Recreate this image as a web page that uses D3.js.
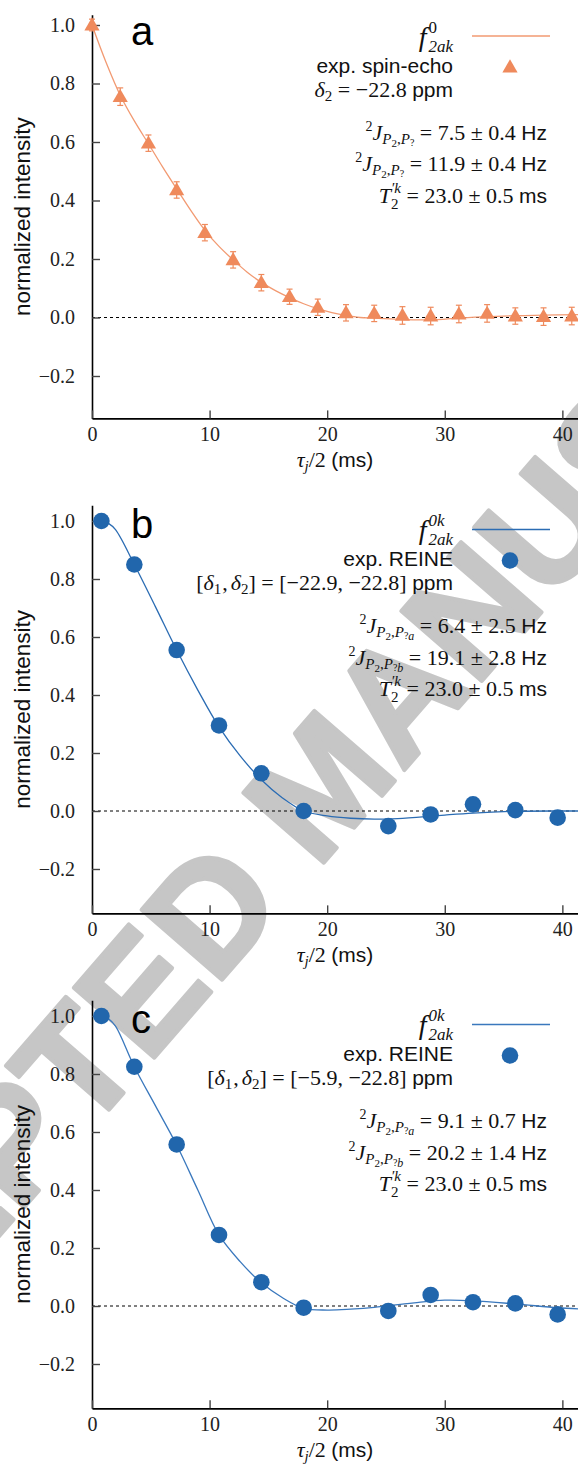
<!DOCTYPE html>
<html>
<head>
<meta charset="utf-8">
<script src="https://cdn.jsdelivr.net/npm/d3@7"></script>
<style>
  body { margin: 0; background: #fff; }
  text { white-space: pre; }
</style>
</head>
<body>
<svg id="chart" width="578" height="1466"></svg>
<script>
// ---- data ----
// panel a: spin-echo (triangles with error bars)
var tauA = [0, 2.4, 4.8, 7.2, 9.6, 12.0, 14.4, 16.8, 19.2, 21.6, 24.0, 26.4, 28.8, 31.2, 33.6, 36.0, 38.4, 40.8];
var intensityA = [1.0, 0.755, 0.596, 0.436, 0.290, 0.197, 0.119, 0.071, 0.035, 0.016, 0.014, 0.007, 0.005, 0.012, 0.014, 0.005, 0.003, 0.005];
var errorA = [0.02, 0.03, 0.028, 0.028, 0.028, 0.028, 0.028, 0.026, 0.028, 0.028, 0.028, 0.03, 0.03, 0.03, 0.03, 0.028, 0.03, 0.03];
var fitTauA = [0, 1.2, 2.4, 3.6, 4.8, 6.0, 7.2, 8.4, 9.6, 10.8, 12.0, 13.2, 14.4, 15.6, 16.8, 18.0, 19.2, 20.4, 21.6, 22.8, 24.0, 26.4, 28.8, 31.2, 33.6, 36.0, 38.4, 41.4];
var fitA = [1.0, 0.872, 0.76, 0.672, 0.594, 0.515, 0.44, 0.366, 0.298, 0.243, 0.197, 0.155, 0.12, 0.092, 0.068, 0.047, 0.03, 0.017, 0.007, 0.0, -0.002, -0.007, -0.008, -0.002, 0.003, 0.006, 0.008, 0.010];

// panel b: REINE, [-22.9, -22.8] ppm
var tauB = [0.8, 3.6, 7.2, 10.8, 14.4, 18.0, 25.2, 28.8, 32.4, 36.0, 39.6];
var intensityB = [1.0, 0.85, 0.555, 0.295, 0.13, 0.0, -0.052, -0.012, 0.023, 0.003, -0.023];
var fitTauB = [0.8, 1.4, 2.0, 3.6, 5.4, 7.2, 9.0, 10.8, 12.6, 14.4, 16.2, 18.0, 20.0, 22.0, 24.0, 26.0, 28.8, 30.0, 32.4, 36.0, 40.0, 41.4];
var fitB = [1.0, 0.992, 0.97, 0.85, 0.704, 0.555, 0.417, 0.29, 0.19, 0.108, 0.045, 0.0, -0.017, -0.025, -0.028, -0.026, -0.018, -0.014, -0.007, -0.001, 0.0, 0.0];

// panel c: REINE, [-5.9, -22.8] ppm
var tauC = [0.8, 3.6, 7.2, 10.8, 14.4, 18.0, 25.2, 28.8, 32.4, 36.0, 39.6];
var intensityC = [1.0, 0.825, 0.557, 0.245, 0.082, -0.006, -0.017, 0.038, 0.013, 0.009, -0.029];
var fitTauC = [0.8, 1.4, 2.0, 3.6, 5.4, 7.2, 9.0, 10.8, 12.6, 14.4, 16.3, 18.0, 20.0, 22.0, 24.0, 25.2, 27.4, 30.0, 32.4, 36.0, 39.6, 41.4];
var fitC = [1.0, 0.99, 0.965, 0.825, 0.69, 0.555, 0.40, 0.245, 0.153, 0.08, 0.026, -0.008, -0.014, -0.011, -0.005, 0.001, 0.011, 0.02, 0.018, 0.007, -0.006, -0.01];

var xTicks = [0, 10, 20, 30, 40];
var yTicks = [-0.2, 0, 0.2, 0.4, 0.6, 0.8, 1.0];
var panelLabels = ["a", "b", "c"];
var legendNames = ["exp. spin-echo", "exp. REINE", "exp. REINE"];
var fitSup = ["0", "0k", "0k"];
var shiftLines = [
  ["δ", "2", " = −22.8 "],
  ["[", "δ", "1", ",", "δ", "2", "] = [−22.9, −22.8] "],
  ["[", "δ", "1", ",", "δ", "2", "] = [−5.9, −22.8] "]
];
var jValues = [
  ["7.5 ± 0.4", "11.9 ± 0.4"],
  ["6.4 ± 2.5", "19.1 ± 2.8"],
  ["9.1 ± 0.7", "20.2 ± 1.4"]
];
var jSubs = [["", ""], ["a", "b"], ["a", "b"]];
var t2Values = ["23.0 ± 0.5", "23.0 ± 0.5", "23.0 ± 0.5"];

var SERIF = "'Liberation Serif', 'Times New Roman', serif";
var SANS = "'Liberation Sans', Arial, Helvetica, sans-serif";
var ORANGE = "#ef8a5c";
var BLUE = "#2166ac";

var svg = d3.select("#chart");

// watermark underneath everything
svg.append("text")
  .attr("transform", "translate(320,782) rotate(-49)")
  .attr("text-anchor", "middle")
  .attr("dy", "0.36em")
  .attr("font-family", SANS)
  .attr("font-weight", "bold")
  .attr("font-size", 155)
  .attr("fill", "#c6c6c6")
  .attr("stroke", "#c6c6c6")
  .attr("stroke-width", 4)
  .attr("stroke-linejoin", "round")
  .text("ACCEPTED MANUSCRIPT");

var x = d3.scaleLinear().domain([0, 41.33]).range([92, 578]);

// lays out a run of text pieces (sub/superscripts) side by side
function formula(g, segs, xPos, baseY, anchor) {
  var grp = g.append("g");
  var nodes = segs.map(function(s) {
    return grp.append("text")
      .attr("y", baseY + (s.dy || 0))
      .attr("font-family", s.f === "sans" ? SANS : SERIF)
      .attr("font-style", s.it ? "italic" : "normal")
      .attr("font-size", s.s)
      .attr("fill", "#111")
      .text(s.t);
  });
  var cursor = 0, lastStart = 0, starts = [];
  segs.forEach(function(s, i) {
    var w = nodes[i].node().getComputedTextLength();
    if (s.stack) {
      starts.push(lastStart);
      cursor = Math.max(cursor, lastStart + w);
    } else {
      var st = cursor + (s.dx || 0);
      starts.push(st);
      lastStart = st;
      cursor = st + w;
    }
  });
  var x0 = anchor === "end" ? xPos - cursor : anchor === "middle" ? xPos - cursor / 2 : xPos;
  nodes.forEach(function(n, i) { n.attr("x", x0 + starts[i]); });
}

var panels = [
  { zero: 317.5, unit: 292.5, yMin: -0.345, yMax: 1.035, tau: tauA, val: intensityA, err: errorA, fx: fitTauA, fy: fitA, color: ORANGE, line: "#f29a72", marker: "triangle" },
  { zero: 811, unit: 290, yMin: -0.353, yMax: 1.054, tau: tauB, val: intensityB, fx: fitTauB, fy: fitB, color: BLUE, line: "#2b6cb3", marker: "circle" },
  { zero: 1306, unit: 290, yMin: -0.353, yMax: 1.054, tau: tauC, val: intensityC, fx: fitTauC, fy: fitC, color: BLUE, line: "#3a78bd", marker: "circle" }
];

panels.forEach(function(p, pi) {
  var y = d3.scaleLinear()
    .domain([p.yMin, p.yMax])
    .range([p.zero - p.yMin * p.unit, p.zero - p.yMax * p.unit]);
  var g = svg.append("g");
  var bottom = y(p.yMin), top = y(p.yMax);

  g.append("clipPath").attr("id", "clip" + pi)
    .append("rect").attr("x", 92).attr("y", top - 20).attr("width", 486).attr("height", bottom - top + 20);

  // zero line
  g.append("line")
    .attr("x1", x(0)).attr("x2", x(41.33))
    .attr("y1", y(0)).attr("y2", y(0))
    .attr("stroke", "#000").attr("stroke-width", 1)
    .attr("stroke-dasharray", "3,3");

  // axes
  var yAxis = g.append("g").attr("transform", "translate(92,0)")
    .call(d3.axisLeft(y).tickValues(yTicks).tickSize(-8).tickSizeOuter(0).tickPadding(17)
      .tickFormat(function(d) { return d < 0 ? "−" + Math.abs(d).toFixed(1) : d.toFixed(1); }));
  var xAxis = g.append("g").attr("transform", "translate(0," + bottom + ")")
    .call(d3.axisBottom(x).tickValues(xTicks).tickSize(-8).tickSizeOuter(0).tickPadding(8));
  [xAxis, yAxis].forEach(function(a) {
    a.select(".domain").attr("stroke", "#000").attr("stroke-width", 1.6);
    a.selectAll(".tick line").attr("stroke", "#444").attr("stroke-width", 1.4);
    a.selectAll(".tick text").attr("font-family", SERIF).attr("font-size", 20).attr("fill", "#222");
  });

  // fit curve
  var pts = p.fx.map(function(t, i) { return [t, p.fy[i]]; });
  g.append("path")
    .datum(pts)
    .attr("clip-path", "url(#clip" + pi + ")")
    .attr("fill", "none")
    .attr("stroke", p.line)
    .attr("stroke-width", 1.3)
    .attr("d", d3.line().x(function(d) { return x(d[0]); }).y(function(d) { return y(d[1]); })
      .curve(d3.curveCatmullRom.alpha(0.5)));

  var data = p.tau.map(function(t, i) { return { t: t, v: p.val[i], e: p.err ? p.err[i] : 0 }; });

  if (p.marker === "triangle") {
    var eb = g.append("g").attr("stroke", p.color).attr("stroke-width", 1.2);
    data.forEach(function(d) {
      var cx = x(d.t);
      eb.append("line").attr("x1", cx).attr("x2", cx).attr("y1", y(d.v - d.e)).attr("y2", y(d.v + d.e));
      eb.append("line").attr("x1", cx - 3).attr("x2", cx + 3).attr("y1", y(d.v - d.e)).attr("y2", y(d.v - d.e));
      eb.append("line").attr("x1", cx - 3).attr("x2", cx + 3).attr("y1", y(d.v + d.e)).attr("y2", y(d.v + d.e));
    });
    g.selectAll("path.pt").data(data).enter().append("path")
      .attr("class", "pt")
      .attr("d", d3.symbol(d3.symbolTriangle, 100))
      .attr("transform", function(d) { return "translate(" + x(d.t) + "," + (y(d.v) + 1) + ")"; })
      .attr("fill", p.color);
  } else {
    g.selectAll("circle.pt").data(data).enter().append("circle")
      .attr("class", "pt")
      .attr("cx", function(d) { return x(d.t); })
      .attr("cy", function(d) { return y(d.v); })
      .attr("r", 8.3)
      .attr("fill", p.color);
  }

  // panel letter
  g.append("text").attr("x", 131).attr("y", p.zero - 273)
    .attr("font-family", SANS).attr("font-size", 40).attr("fill", "#000")
    .text(panelLabels[pi]);

  // axis titles
  g.append("text")
    .attr("transform", "translate(30," + ((top + bottom) / 2) + ") rotate(-90)")
    .attr("text-anchor", "middle")
    .attr("font-family", SANS).attr("font-size", 22.5).attr("fill", "#111")
    .text("normalized intensity");
  formula(g, [
    { t: "τ", it: true, s: 22 },
    { t: "j", it: true, s: 15, dy: 4 },
    { t: "/2 ", s: 22 },
    { t: "(ms)", f: "sans", s: 21 }
  ], 335, bottom + 49, "middle");

  // legend
  g.append("line")
    .attr("x1", 472).attr("x2", 550)
    .attr("y1", p.zero - 281.5).attr("y2", p.zero - 281.5)
    .attr("stroke", p.line).attr("stroke-width", 1.5);
  if (p.marker === "triangle") {
    g.append("path").attr("d", d3.symbol(d3.symbolTriangle, 100))
      .attr("transform", "translate(510," + (p.zero - 249.5) + ")").attr("fill", p.color);
  } else {
    g.append("circle").attr("cx", 510).attr("cy", p.zero - 250.5).attr("r", 8.3).attr("fill", p.color);
  }
  formula(g, [
    { t: "f", it: true, s: 28 },
    { t: fitSup[pi], it: pi > 0, s: 17, dy: -13, dx: 2 },
    { t: "2ak", it: true, s: 17, dy: 6, stack: true }
  ], 453, p.zero - 272, "end");
  g.append("text").attr("x", 453).attr("y", p.zero - 245)
    .attr("text-anchor", "end").attr("font-family", SANS).attr("font-size", 21).attr("fill", "#111")
    .text(legendNames[pi]);

  var sh = shiftLines[pi];
  var shSegs = sh.length === 3
    ? [{ t: sh[0], it: true, s: 22 }, { t: sh[1], s: 15, dy: 4 }, { t: sh[2], s: 22 }]
    : [{ t: sh[0], s: 22 }, { t: sh[1], it: true, s: 22 }, { t: sh[2], s: 15, dy: 4 },
       { t: sh[3], s: 22, dx: 1 }, { t: sh[4], it: true, s: 22, dx: 3 }, { t: sh[5], s: 15, dy: 4 }, { t: sh[6], s: 22 }];
  shSegs.push({ t: "ppm", f: "sans", s: 21 });
  formula(g, shSegs, 453, p.zero - 221, "end");

  // coupling constants and T2
  [0, 1].forEach(function(k) {
    var segs = [
      { t: "2", s: 14, dy: -9 },
      { t: "J", it: true, s: 22 },
      { t: "P", it: true, s: 15, dy: 4 },
      { t: "2", s: 11, dy: 7 },
      { t: ",", s: 15, dy: 4 },
      { t: "P", it: true, s: 15, dy: 4 },
      { t: "?", s: 10, dy: 6 }
    ];
    if (jSubs[pi][k]) segs.push({ t: jSubs[pi][k], it: true, s: 12, dy: 7 });
    segs.push({ t: " = " + jValues[pi][k] + " ", s: 22 });
    segs.push({ t: "Hz", f: "sans", s: 21 });
    formula(g, segs, 547, p.zero - (k === 0 ? 178 : 146.5), "end");
  });
  formula(g, [
    { t: "T", it: true, s: 22 },
    { t: "′k", it: true, s: 15, dy: -10 },
    { t: "2", s: 15, dy: 6, stack: true },
    { t: " = " + t2Values[pi] + " ", s: 22 },
    { t: "ms", f: "sans", s: 21 }
  ], 547, p.zero - 115, "end");
});
</script>
</body>
</html>
